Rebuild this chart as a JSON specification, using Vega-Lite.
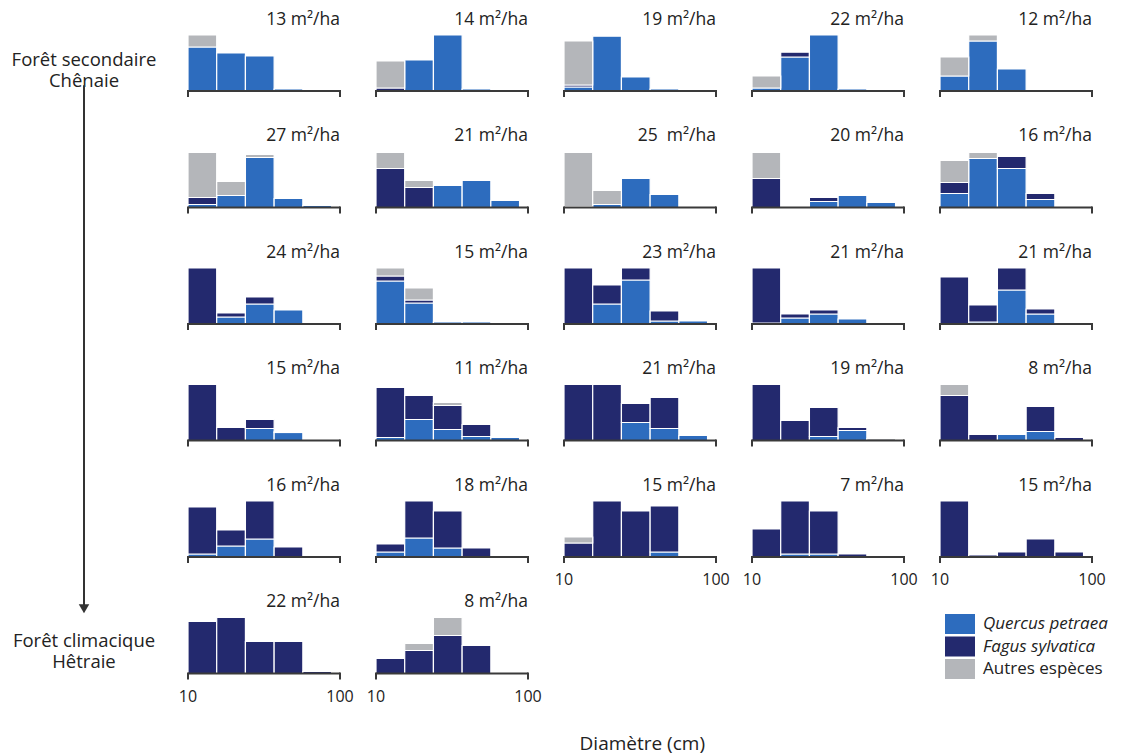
{
  "$schema": "https://vega.github.io/schema/vega-lite/v6.json",
  "padding": {"left": 5, "top": 10, "right": 5, "bottom": 5},
  "background": "white",
  "spacing": 15,
  "config": {"font": "Open Sans", "view": {"stroke": null}},
  "datasets": {
    "bins": [
      {"bin": 1, "lo": 10, "hi": 27},
      {"bin": 2, "lo": 27, "hi": 44},
      {"bin": 3, "lo": 44, "hi": 61},
      {"bin": 4, "lo": 61, "hi": 78},
      {"bin": 5, "lo": 78, "hi": 95}
    ],
    "stages": [
      {"row": 1, "label": "Forêt secondaire\nChênaie"},
      {"row": 6, "label": "Forêt climacique\nHêtraie"}
    ],
    "stands": [
      {"panel": "01|13 m²/ha", "bin": 1, "Quercus petraea": 44, "Autres espèces": 12},
      {"panel": "01|13 m²/ha", "bin": 2, "Quercus petraea": 38},
      {"panel": "01|13 m²/ha", "bin": 3, "Quercus petraea": 35},
      {"panel": "01|13 m²/ha", "bin": 4, "Quercus petraea": 2},
      {"panel": "02|14 m²/ha", "bin": 1, "Fagus sylvatica": 3, "Autres espèces": 27},
      {"panel": "02|14 m²/ha", "bin": 2, "Quercus petraea": 31},
      {"panel": "02|14 m²/ha", "bin": 3, "Quercus petraea": 56},
      {"panel": "02|14 m²/ha", "bin": 4, "Quercus petraea": 2},
      {"panel": "03|19 m²/ha", "bin": 1, "Quercus petraea": 4, "Fagus sylvatica": 2, "Autres espèces": 44},
      {"panel": "03|19 m²/ha", "bin": 2, "Quercus petraea": 55, "Fagus sylvatica": 1},
      {"panel": "03|19 m²/ha", "bin": 3, "Quercus petraea": 14},
      {"panel": "03|19 m²/ha", "bin": 4, "Quercus petraea": 2},
      {"panel": "04|22 m²/ha", "bin": 1, "Quercus petraea": 3, "Autres espèces": 12},
      {"panel": "04|22 m²/ha", "bin": 2, "Quercus petraea": 34, "Fagus sylvatica": 5, "Autres espèces": 1},
      {"panel": "04|22 m²/ha", "bin": 3, "Quercus petraea": 56},
      {"panel": "04|22 m²/ha", "bin": 4, "Quercus petraea": 2},
      {"panel": "05|12 m²/ha", "bin": 1, "Quercus petraea": 15, "Autres espèces": 19},
      {"panel": "05|12 m²/ha", "bin": 2, "Quercus petraea": 50, "Autres espèces": 6},
      {"panel": "05|12 m²/ha", "bin": 3, "Quercus petraea": 22},
      {"panel": "06|27 m²/ha", "bin": 1, "Quercus petraea": 3, "Fagus sylvatica": 7, "Autres espèces": 45},
      {"panel": "06|27 m²/ha", "bin": 2, "Quercus petraea": 12, "Autres espèces": 14},
      {"panel": "06|27 m²/ha", "bin": 3, "Quercus petraea": 50, "Autres espèces": 3},
      {"panel": "06|27 m²/ha", "bin": 4, "Quercus petraea": 9},
      {"panel": "06|27 m²/ha", "bin": 5, "Quercus petraea": 2},
      {"panel": "07|21 m²/ha", "bin": 1, "Fagus sylvatica": 39, "Autres espèces": 16},
      {"panel": "07|21 m²/ha", "bin": 2, "Fagus sylvatica": 20, "Autres espèces": 7},
      {"panel": "07|21 m²/ha", "bin": 3, "Quercus petraea": 22},
      {"panel": "07|21 m²/ha", "bin": 4, "Quercus petraea": 27},
      {"panel": "07|21 m²/ha", "bin": 5, "Quercus petraea": 7},
      {"panel": "08|25  m²/ha", "bin": 1, "Quercus petraea": 1, "Autres espèces": 54},
      {"panel": "08|25  m²/ha", "bin": 2, "Quercus petraea": 3, "Autres espèces": 14},
      {"panel": "08|25  m²/ha", "bin": 3, "Quercus petraea": 29},
      {"panel": "08|25  m²/ha", "bin": 4, "Quercus petraea": 13},
      {"panel": "09|20 m²/ha", "bin": 1, "Fagus sylvatica": 29, "Autres espèces": 26},
      {"panel": "09|20 m²/ha", "bin": 3, "Quercus petraea": 6, "Fagus sylvatica": 4},
      {"panel": "09|20 m²/ha", "bin": 4, "Quercus petraea": 12},
      {"panel": "09|20 m²/ha", "bin": 5, "Quercus petraea": 5},
      {"panel": "10|16 m²/ha", "bin": 1, "Quercus petraea": 14, "Fagus sylvatica": 11, "Autres espèces": 22},
      {"panel": "10|16 m²/ha", "bin": 2, "Quercus petraea": 49, "Autres espèces": 6},
      {"panel": "10|16 m²/ha", "bin": 3, "Quercus petraea": 39, "Fagus sylvatica": 12},
      {"panel": "10|16 m²/ha", "bin": 4, "Quercus petraea": 8, "Fagus sylvatica": 6},
      {"panel": "11|24 m²/ha", "bin": 1, "Fagus sylvatica": 56},
      {"panel": "11|24 m²/ha", "bin": 2, "Quercus petraea": 7, "Fagus sylvatica": 4},
      {"panel": "11|24 m²/ha", "bin": 3, "Quercus petraea": 20, "Fagus sylvatica": 7},
      {"panel": "11|24 m²/ha", "bin": 4, "Quercus petraea": 14},
      {"panel": "12|15 m²/ha", "bin": 1, "Quercus petraea": 43, "Fagus sylvatica": 5, "Autres espèces": 8},
      {"panel": "12|15 m²/ha", "bin": 2, "Quercus petraea": 21, "Fagus sylvatica": 3, "Autres espèces": 12},
      {"panel": "12|15 m²/ha", "bin": 3, "Quercus petraea": 2},
      {"panel": "12|15 m²/ha", "bin": 4, "Quercus petraea": 2},
      {"panel": "13|23 m²/ha", "bin": 1, "Fagus sylvatica": 56},
      {"panel": "13|23 m²/ha", "bin": 2, "Quercus petraea": 20, "Fagus sylvatica": 19},
      {"panel": "13|23 m²/ha", "bin": 3, "Quercus petraea": 44, "Fagus sylvatica": 12},
      {"panel": "13|23 m²/ha", "bin": 4, "Quercus petraea": 3, "Fagus sylvatica": 10},
      {"panel": "13|23 m²/ha", "bin": 5, "Quercus petraea": 3},
      {"panel": "14|21 m²/ha", "bin": 1, "Quercus petraea": 1, "Fagus sylvatica": 55},
      {"panel": "14|21 m²/ha", "bin": 2, "Quercus petraea": 6, "Fagus sylvatica": 4},
      {"panel": "14|21 m²/ha", "bin": 3, "Quercus petraea": 10, "Fagus sylvatica": 4},
      {"panel": "14|21 m²/ha", "bin": 4, "Quercus petraea": 5},
      {"panel": "15|21 m²/ha", "bin": 1, "Fagus sylvatica": 47},
      {"panel": "15|21 m²/ha", "bin": 2, "Quercus petraea": 2, "Fagus sylvatica": 17},
      {"panel": "15|21 m²/ha", "bin": 3, "Quercus petraea": 34, "Fagus sylvatica": 22},
      {"panel": "15|21 m²/ha", "bin": 4, "Quercus petraea": 10, "Fagus sylvatica": 5},
      {"panel": "16|15 m²/ha", "bin": 1, "Fagus sylvatica": 56},
      {"panel": "16|15 m²/ha", "bin": 2, "Fagus sylvatica": 13},
      {"panel": "16|15 m²/ha", "bin": 3, "Quercus petraea": 12, "Fagus sylvatica": 9},
      {"panel": "16|15 m²/ha", "bin": 4, "Quercus petraea": 8, "Fagus sylvatica": 1},
      {"panel": "17|11 m²/ha", "bin": 1, "Quercus petraea": 3, "Fagus sylvatica": 50},
      {"panel": "17|11 m²/ha", "bin": 2, "Quercus petraea": 21, "Fagus sylvatica": 24},
      {"panel": "17|11 m²/ha", "bin": 3, "Quercus petraea": 11, "Fagus sylvatica": 24, "Autres espèces": 3},
      {"panel": "17|11 m²/ha", "bin": 4, "Quercus petraea": 4, "Fagus sylvatica": 12},
      {"panel": "17|11 m²/ha", "bin": 5, "Quercus petraea": 3},
      {"panel": "18|21 m²/ha", "bin": 1, "Fagus sylvatica": 56},
      {"panel": "18|21 m²/ha", "bin": 2, "Fagus sylvatica": 56},
      {"panel": "18|21 m²/ha", "bin": 3, "Quercus petraea": 18, "Fagus sylvatica": 19},
      {"panel": "18|21 m²/ha", "bin": 4, "Quercus petraea": 12, "Fagus sylvatica": 31},
      {"panel": "18|21 m²/ha", "bin": 5, "Quercus petraea": 5},
      {"panel": "19|19 m²/ha", "bin": 1, "Fagus sylvatica": 56},
      {"panel": "19|19 m²/ha", "bin": 2, "Fagus sylvatica": 20},
      {"panel": "19|19 m²/ha", "bin": 3, "Quercus petraea": 4, "Fagus sylvatica": 29},
      {"panel": "19|19 m²/ha", "bin": 4, "Quercus petraea": 10, "Fagus sylvatica": 3},
      {"panel": "19|19 m²/ha", "bin": 5, "Autres espèces": 2},
      {"panel": "20|8 m²/ha", "bin": 1, "Fagus sylvatica": 45, "Autres espèces": 11},
      {"panel": "20|8 m²/ha", "bin": 2, "Fagus sylvatica": 6},
      {"panel": "20|8 m²/ha", "bin": 3, "Quercus petraea": 6},
      {"panel": "20|8 m²/ha", "bin": 4, "Quercus petraea": 9, "Fagus sylvatica": 25},
      {"panel": "20|8 m²/ha", "bin": 5, "Fagus sylvatica": 3},
      {"panel": "21|16 m²/ha", "bin": 1, "Quercus petraea": 3, "Fagus sylvatica": 47},
      {"panel": "21|16 m²/ha", "bin": 2, "Quercus petraea": 11, "Fagus sylvatica": 16},
      {"panel": "21|16 m²/ha", "bin": 3, "Quercus petraea": 18, "Fagus sylvatica": 38},
      {"panel": "21|16 m²/ha", "bin": 4, "Fagus sylvatica": 10},
      {"panel": "22|18 m²/ha", "bin": 1, "Quercus petraea": 5, "Fagus sylvatica": 8},
      {"panel": "22|18 m²/ha", "bin": 2, "Quercus petraea": 19, "Fagus sylvatica": 37},
      {"panel": "22|18 m²/ha", "bin": 3, "Quercus petraea": 9, "Fagus sylvatica": 37},
      {"panel": "22|18 m²/ha", "bin": 4, "Fagus sylvatica": 9},
      {"panel": "23|15 m²/ha", "bin": 1, "Fagus sylvatica": 14, "Autres espèces": 6},
      {"panel": "23|15 m²/ha", "bin": 2, "Fagus sylvatica": 56},
      {"panel": "23|15 m²/ha", "bin": 3, "Fagus sylvatica": 46},
      {"panel": "23|15 m²/ha", "bin": 4, "Quercus petraea": 5, "Fagus sylvatica": 46},
      {"panel": "24|7 m²/ha", "bin": 1, "Fagus sylvatica": 28},
      {"panel": "24|7 m²/ha", "bin": 2, "Quercus petraea": 3, "Fagus sylvatica": 53},
      {"panel": "24|7 m²/ha", "bin": 3, "Quercus petraea": 3, "Fagus sylvatica": 43},
      {"panel": "24|7 m²/ha", "bin": 4, "Fagus sylvatica": 3},
      {"panel": "25|15 m²/ha", "bin": 1, "Fagus sylvatica": 56},
      {"panel": "25|15 m²/ha", "bin": 2, "Fagus sylvatica": 2},
      {"panel": "25|15 m²/ha", "bin": 3, "Fagus sylvatica": 5},
      {"panel": "25|15 m²/ha", "bin": 4, "Fagus sylvatica": 18},
      {"panel": "25|15 m²/ha", "bin": 5, "Fagus sylvatica": 5},
      {"panel": "26|22 m²/ha", "bin": 1, "Fagus sylvatica": 52},
      {"panel": "26|22 m²/ha", "bin": 2, "Fagus sylvatica": 56},
      {"panel": "26|22 m²/ha", "bin": 3, "Fagus sylvatica": 32},
      {"panel": "26|22 m²/ha", "bin": 4, "Fagus sylvatica": 32},
      {"panel": "26|22 m²/ha", "bin": 5, "Fagus sylvatica": 2},
      {"panel": "27|8 m²/ha", "bin": 1, "Fagus sylvatica": 15},
      {"panel": "27|8 m²/ha", "bin": 2, "Fagus sylvatica": 23, "Autres espèces": 7},
      {"panel": "27|8 m²/ha", "bin": 3, "Fagus sylvatica": 38, "Autres espèces": 18},
      {"panel": "27|8 m²/ha", "bin": 4, "Fagus sylvatica": 28}
    ]
  },
  "hconcat": [
    {
      "width": 158,
      "height": 698,
      "layer": [
        {
          "data": {"name": "stages"},
          "mark": {"type": "text", "fontSize": 18.5, "lineBreak": "\n", "lineHeight": 21, "color": "#222", "align": "center", "baseline": "middle"},
          "encoding": {
            "x": {"datum": 0, "type": "quantitative", "scale": {"domain": [-1, 1]}, "axis": null},
            "y": {"field": "row", "type": "quantitative", "scale": {"domain": [0.78, 6.78], "reverse": true, "nice": false, "zero": false}, "axis": null},
            "text": {"field": "label"}
          }
        },
        {
          "data": {"values": [{}]},
          "mark": {"type": "rule", "color": "#333", "strokeWidth": 2},
          "encoding": {
            "x": {"datum": 0, "type": "quantitative", "axis": null},
            "y": {"datum": 1.22, "type": "quantitative", "axis": null},
            "y2": {"datum": 5.72}
          }
        },
        {
          "data": {"values": [{}]},
          "mark": {"type": "point", "shape": "triangle-down", "filled": true, "size": 110, "color": "#333", "opacity": 1},
          "encoding": {
            "x": {"datum": 0, "type": "quantitative", "axis": null},
            "y": {"datum": 5.72, "type": "quantitative", "axis": null}
          }
        }
      ]
    },
    {
      "data": {"name": "stands"},
      "transform": [
        {"lookup": "bin", "from": {"data": {"name": "bins"}, "key": "bin", "fields": ["lo", "hi"]}},
        {"fold": ["Quercus petraea", "Fagus sylvatica", "Autres espèces"], "as": ["species", "value"]},
        {"filter": "datum.value > 0"},
        {"stack": "value", "groupby": ["panel", "bin"], "sort": [{"field": "species", "order": "descending"}], "as": ["y0", "y1"]}
      ],
      "facet": {
        "field": "panel",
        "type": "nominal",
        "header": {
          "title": null,
          "labelExpr": "replace(split(datum.value, '|')[1], '  ', '\u00a0 ')",
          "labelAnchor": "end",
          "labelAlign": "right",
          "labelFontSize": 17.5,
          "labelFont": "Open Sans",
          "labelColor": "#222",
          "labelPadding": 6
        }
      },
      "columns": 5,
      "bounds": "flush",
      "spacing": {"row": 29.5, "column": 36},
      "title": {"text": "Diamètre (cm)", "orient": "bottom", "anchor": "middle", "fontSize": 19, "fontWeight": "normal", "font": "Open Sans", "color": "#222", "offset": 30},
      "spec": {
        "width": 152,
        "height": 87,
        "layer": [
          {
            "transform": [{"filter": "datum.species !== 'Autres espèces'"}],
            "mark": {"type": "rect", "stroke": "white", "strokeWidth": 1.2},
            "encoding": {
              "x": {"field": "lo", "type": "quantitative", "scale": {"domain": [10, 100], "nice": false, "zero": false}, "axis": null},
              "x2": {"field": "hi"},
              "y": {"field": "y0", "type": "quantitative", "scale": {"domain": [-30, 57], "nice": false, "zero": false}, "axis": null},
              "y2": {"field": "y1"},
              "color": {
                "field": "species", "type": "nominal",
                "scale": {"domain": ["Quercus petraea", "Fagus sylvatica"], "range": ["#2d6cbe", "#23296e"]},
                "legend": {
                  "title": null, "orient": "none", "legendX": 945, "legendY": 580,
                  "symbolType": "M-1.5,-1H1.5V1H-1.5Z", "symbolSize": 400, "symbolStrokeWidth": 0, "symbolOpacity": 1,
                  "labelFontSize": 17, "labelOffset": 13, "rowPadding": 2.5, "labelFont": "Open Sans", "labelColor": "#222", "labelLimit": 300,
                  "labelFontStyle": "italic"
                }
              }
            }
          },
          {
            "transform": [{"filter": "datum.species === 'Autres espèces'"}],
            "mark": {"type": "rect", "stroke": "white", "strokeWidth": 1.2},
            "encoding": {
              "x": {"field": "lo", "type": "quantitative"},
              "x2": {"field": "hi"},
              "y": {"field": "y0", "type": "quantitative"},
              "y2": {"field": "y1"},
              "fill": {
                "field": "species", "type": "nominal",
                "scale": {"domain": ["Autres espèces"], "range": ["#b4b6ba"]},
                "legend": {
                  "title": null, "orient": "none", "legendX": 945, "legendY": 625,
                  "symbolType": "M-1.5,-1H1.5V1H-1.5Z", "symbolSize": 400, "symbolStrokeWidth": 0, "symbolOpacity": 1,
                  "labelFontSize": 17, "labelOffset": 13, "labelFont": "Open Sans", "labelColor": "#222", "labelLimit": 300,
                  "labelFontStyle": "normal"
                }
              }
            }
          },
          {
            "transform": [{"aggregate": [{"op": "count", "as": "n"}], "groupby": ["panel"]}],
            "mark": {"type": "rule", "color": "#3a3a3a", "strokeWidth": 2},
            "encoding": {"x": {"datum": 10, "type": "quantitative"}, "x2": {"datum": 100}, "y": {"datum": 0, "type": "quantitative"}}
          },
          {
            "transform": [{"aggregate": [{"op": "count", "as": "n"}], "groupby": ["panel"]}],
            "mark": {"type": "rule", "color": "#3a3a3a", "strokeWidth": 2},
            "encoding": {"x": {"datum": 10, "type": "quantitative"}, "y": {"datum": -6, "type": "quantitative"}, "y2": {"datum": 1}}
          },
          {
            "transform": [{"aggregate": [{"op": "count", "as": "n"}], "groupby": ["panel"]}],
            "mark": {"type": "rule", "color": "#3a3a3a", "strokeWidth": 2},
            "encoding": {"x": {"datum": 100, "type": "quantitative"}, "y": {"datum": -6, "type": "quantitative"}, "y2": {"datum": 1}}
          },
          {
            "transform": [
              {"filter": {"field": "panel", "oneOf": ["23|15 m²/ha", "24|7 m²/ha", "25|15 m²/ha", "26|22 m²/ha", "27|8 m²/ha"]}},
              {"aggregate": [{"op": "count", "as": "n"}], "groupby": ["panel"]}
            ],
            "mark": {"type": "text", "fontSize": 16, "color": "#222", "align": "center", "baseline": "middle"},
            "encoding": {"x": {"datum": 10, "type": "quantitative"}, "y": {"datum": -23, "type": "quantitative"}, "text": {"datum": 10}}
          },
          {
            "transform": [
              {"filter": {"field": "panel", "oneOf": ["23|15 m²/ha", "24|7 m²/ha", "25|15 m²/ha", "26|22 m²/ha", "27|8 m²/ha"]}},
              {"aggregate": [{"op": "count", "as": "n"}], "groupby": ["panel"]}
            ],
            "mark": {"type": "text", "fontSize": 16, "color": "#222", "align": "center", "baseline": "middle"},
            "encoding": {"x": {"datum": 100, "type": "quantitative"}, "y": {"datum": -23, "type": "quantitative"}, "text": {"datum": 100}}
          }
        ]
      }
    }
  ]
}
